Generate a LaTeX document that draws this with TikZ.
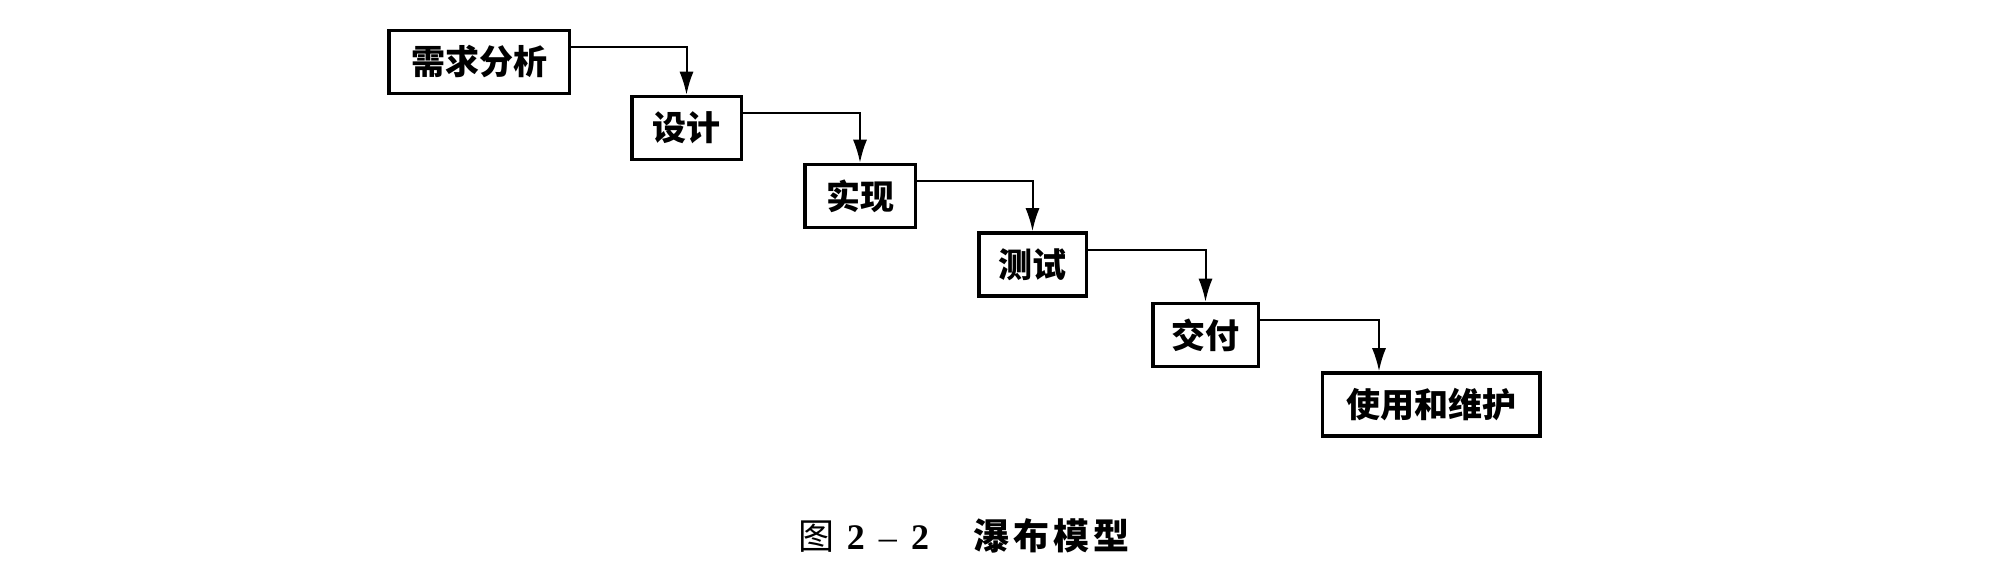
\documentclass[tikz,border=0pt]{standalone}
\usepackage{fontspec}
\setmainfont{Liberation Serif}
\newfontfamily\cjk{Noto Sans CJK SC}
\usetikzlibrary{arrows.meta}
\tikzset{
  stagebox/.style={draw, line width=1.75pt, inner sep=0pt, minimum height=31.5pt,
    font=\cjk\bfseries\fontsize{17pt}{19pt}\selectfont},
  flowarrow/.style={line width=1pt, -{Latex[length=11.5pt,width=7pt]}}
}
\begin{document}
\begin{tikzpicture}[x=0.5pt,y=0.5pt,yscale=-1,xscale=1]
        \useasboundingbox (0,0) rectangle (1990,566);

        % stages
        \node [stagebox, minimum width=90.25pt] (req) at (479,62) {需求分析};
        \node [stagebox, minimum width=54.75pt] (des) at (686.5,128) {设计};
        \node [stagebox, minimum width=55.25pt] (imp) at (860,196) {实现};
        \node [stagebox, minimum width=53.75pt] (tst) at (1032.5,264.5) {测试};
        \node [stagebox, minimum width=52.75pt] (dlv) at (1205.5,335) {交付};
        \node [stagebox, minimum width=108.75pt] (mnt) at (1431,404.5) {使用和维护};

        % flow between stages
        \draw [flowarrow] ([yshift=-7.25pt]req.east) -| (des.north);
        \draw [flowarrow] ([yshift=-7.25pt]des.east) -| (imp.north);
        \draw [flowarrow] ([yshift=-7.25pt]imp.east) -| (tst.north);
        \draw [flowarrow] ([yshift=-7.25pt]tst.east) -| (dlv.north);
        \draw [flowarrow] ([yshift=-7.25pt]dlv.east) -| ([xshift=-26pt]mnt.north);

        % caption
        \node [font=\fontsize{18pt}{20pt}\selectfont] (cap) at (964,536)
          {{\cjk 图}\hspace{6pt}\textbf{2}\hspace{7pt}–\hspace{7pt}\textbf{2}\hspace{22pt}{\cjk\bfseries 瀑\hspace{2pt}布\hspace{2pt}模\hspace{2pt}型}};
\end{tikzpicture}
\end{document}
